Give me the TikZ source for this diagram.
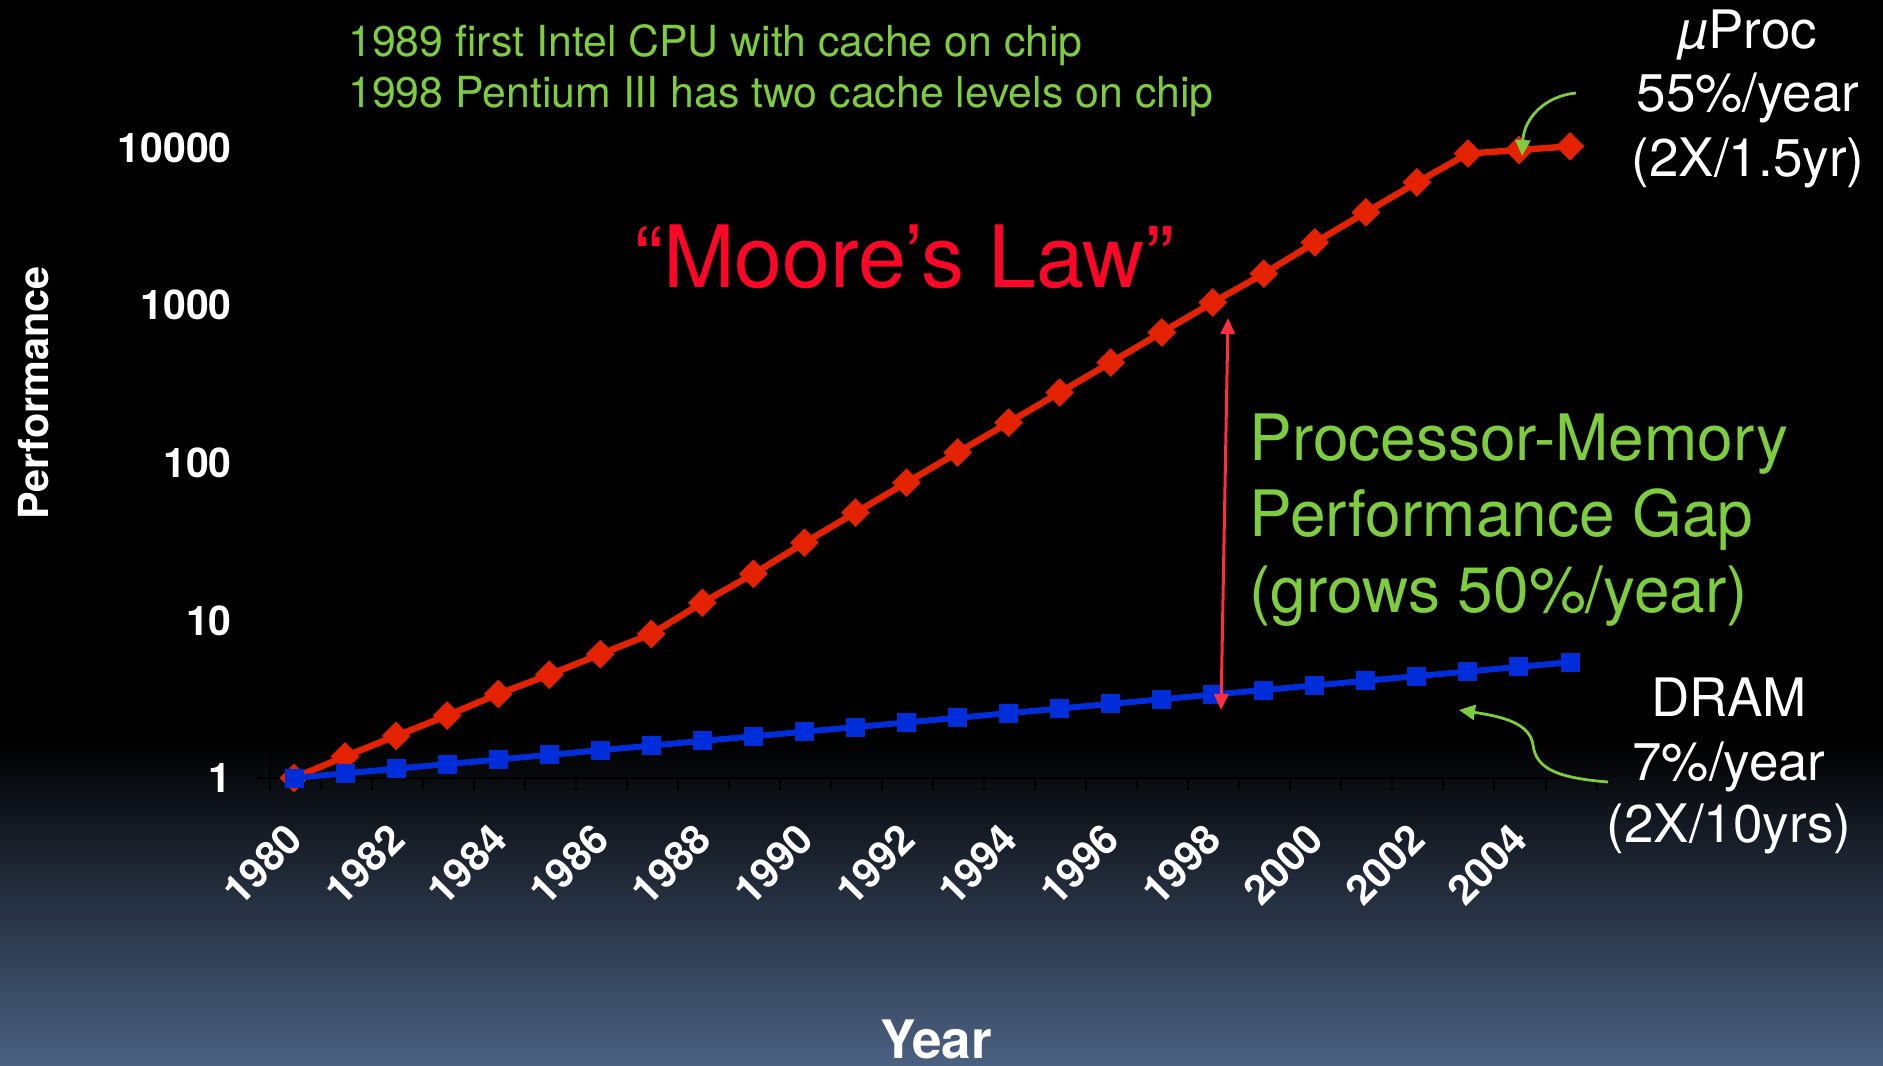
\documentclass[tikz,border=0pt]{standalone}
\usepackage{fontspec}
\setmainfont{TeX Gyre Heros}
\usetikzlibrary{arrows.meta,shapes.geometric}
\definecolor{bgbot}{RGB}{75,97,130}
\definecolor{redln}{RGB}{228,34,0}
\definecolor{blueln}{RGB}{0,45,218}
\definecolor{grn}{RGB}{125,205,62}
\definecolor{gapred}{RGB}{255,45,65}
\definecolor{moorered}{RGB}{255,5,40}
\tikzset{
  redline/.style={redln,line width=3.2pt,line join=round},
  blueline/.style={blueln,line width=3pt,line join=round},
  rdia/.style={diamond,fill=redln,inner sep=0pt,minimum width=14.5pt,minimum height=14.5pt},
  bsq/.style={rectangle,fill=blueln,inner sep=0pt,minimum size=9.5pt},
  ylab/.style={text=white,inner sep=0pt,anchor=east,font=\bfseries\fontsize{20.5}{24}\selectfont},
  xlab/.style={text=white,inner sep=0pt,anchor=east,rotate=45,font=\bfseries\fontsize{20.5}{24}\selectfont},
  axisln/.style={black,line width=1pt},
  topnote/.style={text=grn,inner sep=0pt,anchor=base west,font=\fontsize{21.4}{25}\selectfont},
  gaptext/.style={text=grn,inner sep=0pt,anchor=base west,font=\fontsize{32}{38}\selectfont},
  wlab/.style={text=white,inner sep=0pt,anchor=base,font=\fontsize{26.5}{31}\selectfont},
  grnarrow/.style={grn,line width=1.4pt,-{Triangle[length=8pt,width=7.5pt]}},
  gaparrow/.style={gapred,line width=1.5pt,{Triangle[length=8pt,width=7pt]}-{Triangle[length=8pt,width=7pt]}}
}
\begin{document}
\begin{tikzpicture}[x=0.5pt,y=-0.5pt]
\useasboundingbox (0,0) rectangle (1883,1065);
\fill[black] (0,0) rectangle (1883,741);
\shade[top color=black,bottom color=bgbot] (0,740) rectangle (1883,1065);

% axes
\draw[axisln] (269.5,148) -- (269.5,790);
\foreach \v in {0,1,2,3,4} \draw[axisln] (257,{778-157.6*\v}) -- (269.5,{778-157.6*\v});
\draw[axisln] (257,778) -- (1596,778);
\foreach \k in {0,...,26} \draw[axisln] ({269.5+51.04*\k},778) -- ({269.5+51.04*\k},790);

% y labels
\node[ylab] (y1) at (232,778) {1};
\node[ylab] (y10) at (232,620.4) {10};
\node[ylab] (y100) at (232,462.8) {100};
\node[ylab] (y1000) at (232,305.2) {1000};
\node[ylab] (y10000) at (232,147.6) {10000};
\node[text=white,inner sep=0pt,rotate=90,font=\bfseries\fontsize{20.7}{24}\selectfont] (perf) at (34,393) {Performance};

% x labels
\foreach \i/\yr in {0/1980,2/1982,4/1984,6/1986,8/1988,10/1990,12/1992,14/1994,16/1996,18/1998,20/2000,22/2002,24/2004}
  \node[xlab] (x\yr) at ({294+51.04*\i+1},832) {\yr};
\node[text=white,inner sep=0pt,anchor=base,font=\bfseries\fontsize{26.5}{30}\selectfont] (year) at (936,1058) {Year};

% data
\foreach \v [count=\i from 0] in {0,.137,.267,.396,.533,.655,.785,.914,1.112,1.295,1.493,1.684,1.874,2.065,2.255,2.446,2.636,2.827,3.017,3.2,3.398,3.589,3.779,3.962,3.985,4.008}
  \coordinate (r\i) at ({294+51.04*\i},{778-157.6*\v});
\foreach \i in {0,...,25}
  \coordinate (b\i) at ({294+51.04*\i},{778-4.632*\i});
\draw[redline] (r0) \foreach \i in {1,...,25} { -- (r\i) };
\foreach \i in {0,...,25} \node[rdia] (rm\i) at (r\i) {};
\draw[blueline] (b0) \foreach \i in {1,...,25} { -- (b\i) };
\foreach \i in {0,...,25} \node[bsq] (bm\i) at (b\i) {};

% gap arrow
\coordinate (gtop) at (1228,318);
\coordinate (gbot) at (1221,710);
\draw[gaparrow] (gtop) -- (gbot);

% texts
\node[topnote] (note1) at (348,56.5) {1989 first Intel CPU with cache on chip};
\node[topnote] (note2) at (348,107.5) {1998 Pentium III has two cache levels on chip};
\node[text=moorered,inner sep=0pt,anchor=base,font=\fontsize{43}{48}\selectfont] (moore) at (904,287) {“Moore’s Law”};
\node[gaptext] (gap1) at (1249,460) {Processor-Memory};
\node[gaptext] (gap2) at (1249,536) {Performance Gap};
\node[gaptext] (gap3) at (1249,612) {(grows 50\%/year)};

\node[wlab] (up1) at (1748,49) {\textit{µ}Proc};
\node[wlab] (up2) at (1748,112) {55\%/year};
\node[wlab] (up3) at (1748,176) {(2X/1.5yr)};
\node[wlab] (dr1) at (1729,716) {DRAM};
\node[wlab] (dr2) at (1729,780) {7\%/year};
\node[wlab] (dr3) at (1729,842) {(2X/10yrs)};

% green arrows
\coordinate (pa) at (1576,93);
\coordinate (pb) at (1522,156);
\draw[grnarrow] (pa) .. controls (1545,96) and (1524,118) .. (pb);
\coordinate (da) at (1608,782);
\coordinate (dm) at (1533,745);
\coordinate (db) at (1459,710);
\draw[grnarrow] (da) .. controls (1560,778) and (1536,770) .. (dm) .. controls (1530,724) and (1505,717) .. (db);
\end{tikzpicture}
\end{document}
